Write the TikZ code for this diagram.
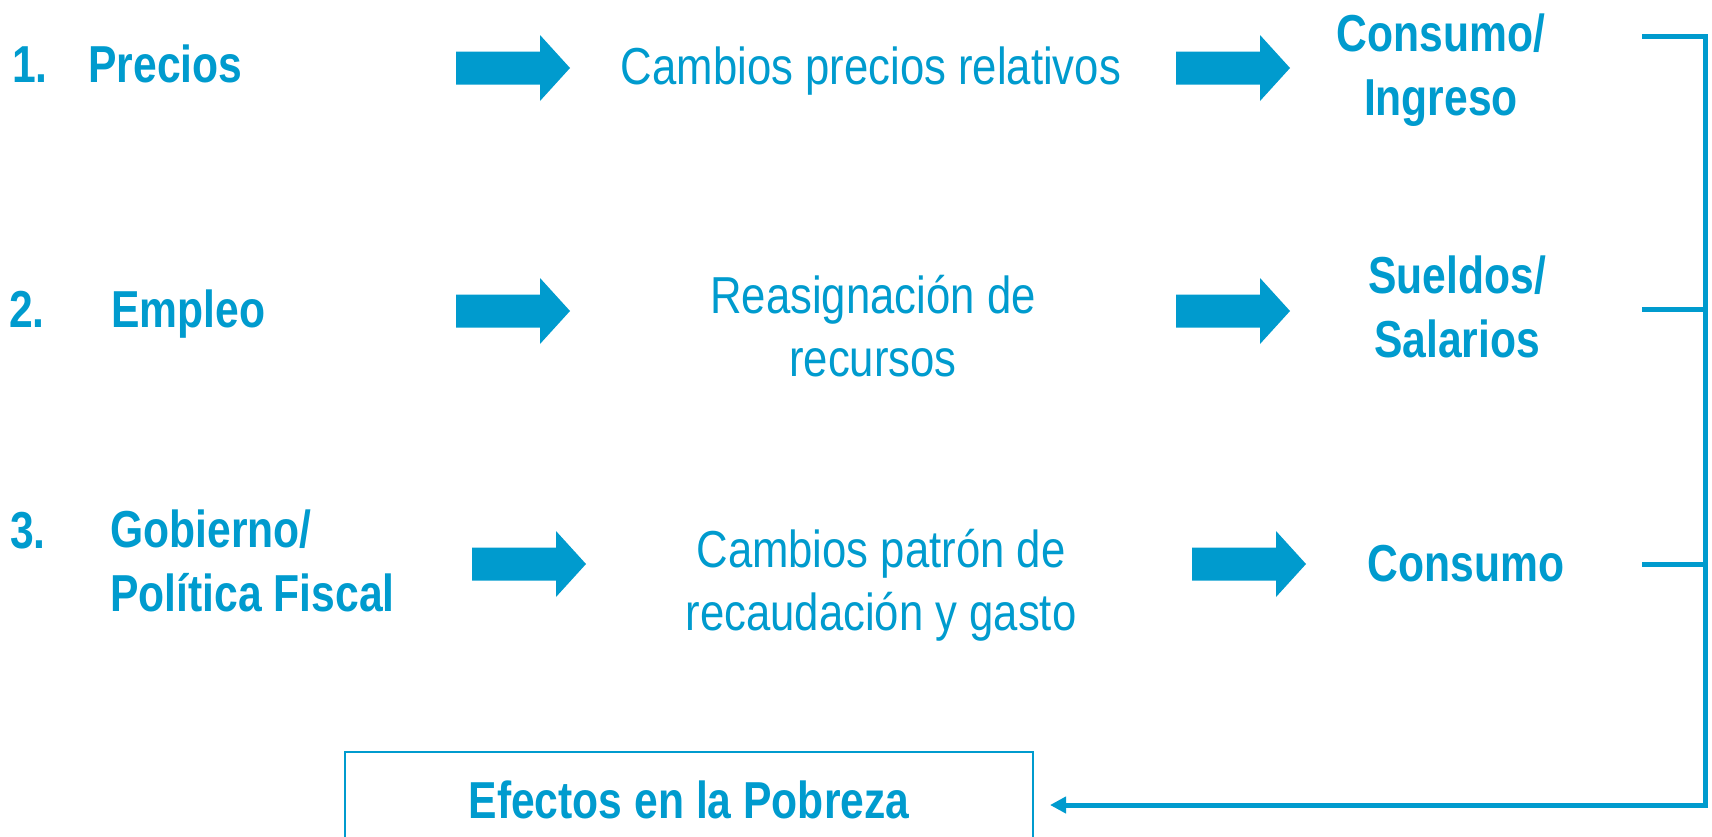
\documentclass[tikz,border=0pt]{standalone}
\usepackage{fontspec}
\setmainfont[FakeStretch=0.82]{Liberation Sans}
\newfontfamily\regfont[FakeStretch=0.84]{Liberation Sans}
\usetikzlibrary{arrows.meta}
\definecolor{cb}{RGB}{0,155,206}
\begin{document}
\begin{tikzpicture}[x=0.75pt,y=-0.75pt,
  txt/.style={text=cb,font=\regfont\fontsize{39}{47.5}\selectfont,inner sep=0pt,align=center},
  bold/.style={txt,font=\fontsize{39}{47.5}\selectfont\bfseries},
  bracket/.style={draw=cb,line width=3.75pt},
  pics/blockarrow/.style={code={\fill[cb] (0,-16.5) -- (84,-16.5) -- (84,-33) -- (114,0) -- (84,33) -- (84,16.5) -- (0,16.5) -- cycle;}}]
\useasboundingbox (0,0) rectangle (1712,836);
\clip (0,0) rectangle (1712,836);
% row 1
\node[bold,anchor=base] (n1) at (30,82) {1.};
\node[bold,anchor=base west] (precios) at (88,82) {Precios};
\pic at (456,68) {blockarrow};
\node[txt,anchor=base] (cpr) at (871,84) {Cambios precios relativos};
\pic at (1176,68) {blockarrow};
\node[bold] (ci) at (1441,70) {Consumo/\\Ingreso};
% row 2
\node[bold,anchor=base] (n2) at (27,327) {2.};
\node[bold,anchor=base west] (empleo) at (111,327) {Empleo};
\pic at (456,311) {blockarrow};
\node[txt] (rr) at (873,326) {Reasignación de\\recursos};
\pic at (1176,311) {blockarrow};
\node[bold] (ss) at (1457,307) {Sueldos/\\Salarios};
% row 3
\node[bold,anchor=base] (n3) at (28,548) {3.};
\node[bold,align=left,anchor=west] (gob) at (110,561) {Gobierno/\\Política Fiscal};
\pic at (472,564) {blockarrow};
\node[txt] (cp) at (881,585) {Cambios patrón de\\recaudación y gasto};
\pic at (1192,564) {blockarrow};
\node[bold,anchor=base] (cons) at (1466,581) {Consumo};
% bottom box
\node[bold,draw=cb,line width=2pt,minimum width=516pt,minimum height=72pt] (box) at (689,800) {Efectos en la Pobreza};
% bracket
\coordinate (t1) at (1642,36);
\coordinate (t2) at (1642,309);
\coordinate (t3) at (1642,564);
\coordinate (bt) at (1705,805);
\coordinate (tip) at (1050,805);
\draw[bracket,-{Triangle[length=12pt,width=12pt]}] (t1) -| (bt) -- (tip);
\draw[bracket] (t2) -- (t2 -| bt);
\draw[bracket] (t3) -- (t3 -| bt);
\end{tikzpicture}
\end{document}
